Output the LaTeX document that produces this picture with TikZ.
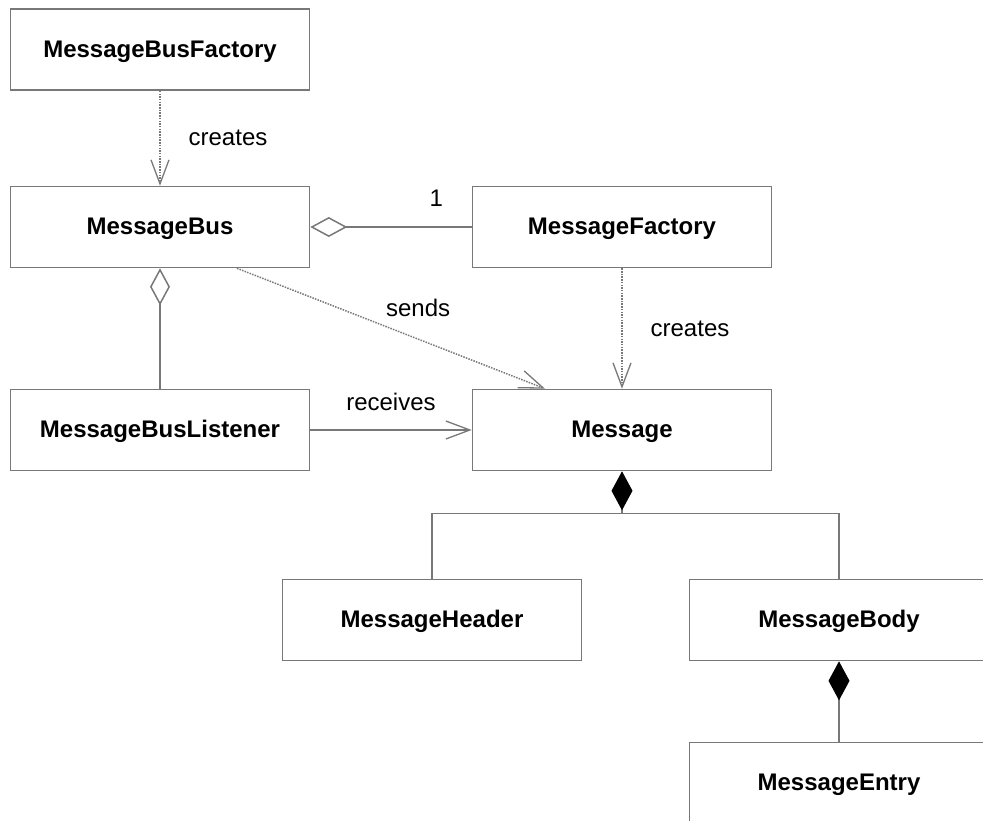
\documentclass[tikz,border=0pt]{standalone}
\usepackage{fontspec}
\setmainfont{Liberation Sans}
\usetikzlibrary{arrows.meta,calc}
\definecolor{linegray}{RGB}{120,120,120}
\tikzset{
  cls/.style={draw=linegray, line width=1.6pt, minimum width=299pt, minimum height=81pt,
    inner sep=0pt, text height=17pt, text depth=2pt,
    font=\fontsize{24}{28}\selectfont\bfseries},
  lbl/.style={font=\fontsize{24}{28}\selectfont, inner sep=0pt},
  link/.style={draw=linegray, line width=1.5pt},
  dep/.style={link, dash pattern=on 1.5pt off 1.2pt, -{Straight Barb[length=24pt,width=18pt,line width=1.3pt]}},
  assoc/.style={link, -{Straight Barb[length=24pt,width=18pt,line width=1.3pt]}},
  agg/.style={link, {Diamond[open,length=37pt,width=20pt,line width=1.5pt]}-},
  comp/.style={link, {Diamond[length=39pt,width=21pt,fill=black,color=black]}-},
}
\begin{document}
\begin{tikzpicture}[x=1pt,y=-1pt]
\useasboundingbox (0,0) rectangle (983,820);

% classes
\node[cls] (mbf)   at (160,49.5) {MessageBusFactory};
\node[cls] (mb)    at (160,227)  {MessageBus};
\node[cls] (mf)    at (622,227)  {MessageFactory};
\node[cls] (mbl)   at (160,430)  {MessageBusListener};
\node[cls] (msg)   at (622,430)  {Message};
\node[cls] (hdr)   at (432,620)  {MessageHeader};
\node[cls] (body)  at (839,620)  {MessageBody};
\node[cls] (entry) at (839,783)  {MessageEntry};

% dependencies
\draw[dep] (mbf.south) -- (mb.north) node[lbl, midway, xshift=68pt] {creates};
\draw[dep] (mf.south) -- (msg.north) node[lbl, midway, xshift=68pt] {creates};
\draw[dep] ($(mb.south)+(77,0)$) -- ($(msg.north)+(-77,0)$)
  node[lbl, pos=0.588, yshift=31pt] {sends};

% associations
\draw[assoc] (mbl.east) -- (msg.west) node[lbl, midway, yshift=28pt] {receives};

% aggregations
\draw[agg] (mb.east) -- (mf.west) node[lbl, pos=0.78, yshift=29pt] {1};
\draw[agg] (mb.south) -- (mbl.north);

% compositions
\coordinate (split) at ($(msg.south)+(0,42)$);
\draw[comp] (msg.south) -- (split);
\draw[link] (split) -| (hdr.north);
\draw[link] (split) -| (body.north);
\draw[comp] (body.south) -- (entry.north);
\end{tikzpicture}
\end{document}
